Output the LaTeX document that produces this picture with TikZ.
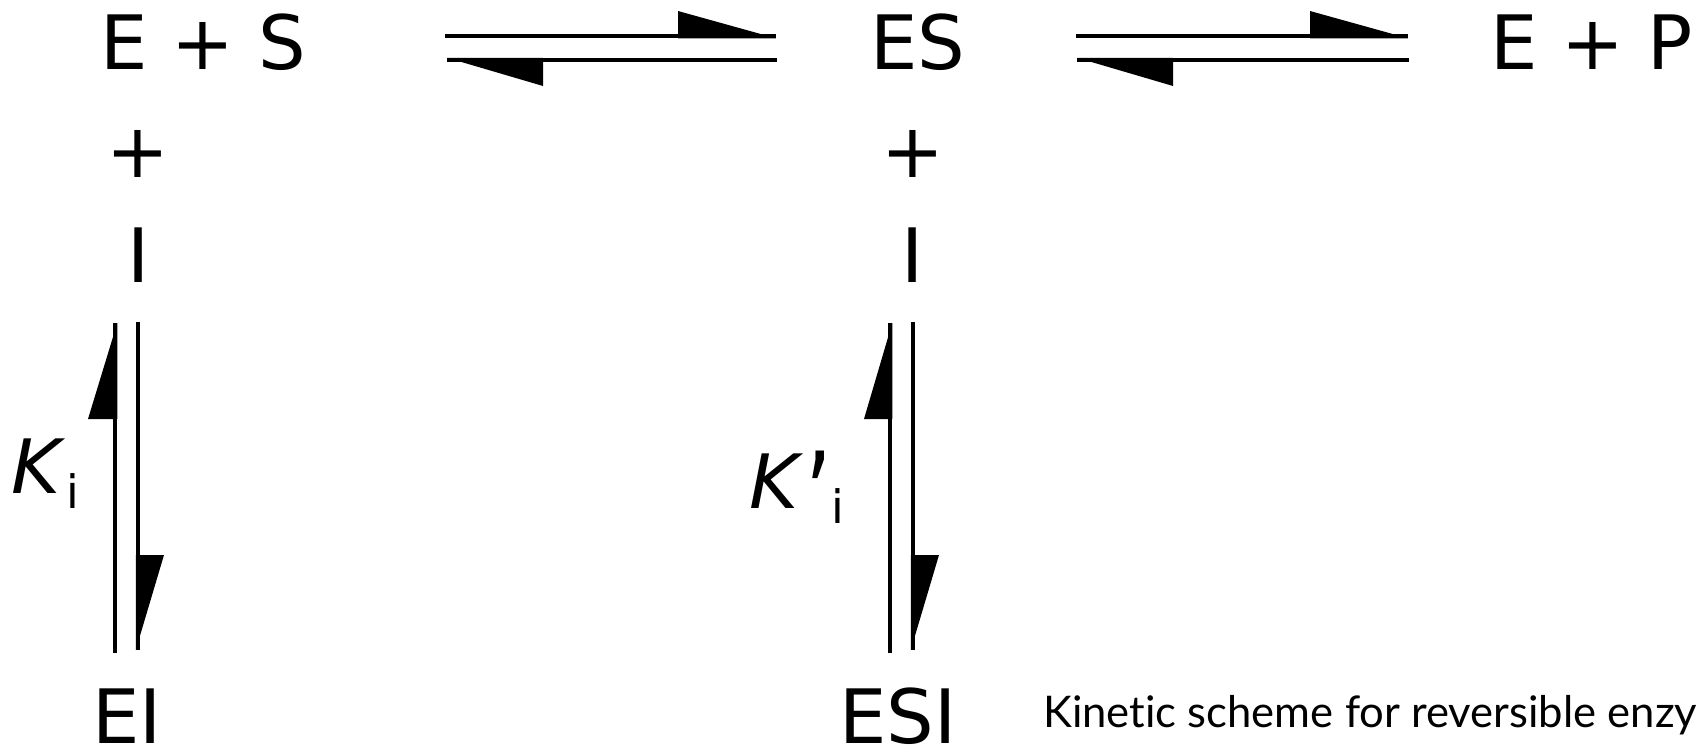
\documentclass[tikz,border=0pt]{standalone}
\usepackage{fontspec}
\setmainfont{DejaVu Sans}
\newfontfamily\capfont[Ligatures=NoCommon]{Lato}
\begin{document}
\begin{tikzpicture}[x=1pt,y=-1pt,
  chem/.style={inner sep=0pt, outer sep=0pt, anchor=base west, font=\fontsize{75}{90}\selectfont},
  chemc/.style={chem, anchor=base},
  eqline/.style={line width=4.5pt},
  barb/.style={fill=black},
  captext/.style={inner sep=0pt, anchor=base west, font=\capfont\fontsize{43.6}{50}\selectfont}]
\useasboundingbox (0,0) rectangle (1698,747);
\fill[white] (0,0) rectangle (1698,747);

% species
\node[chem] (ES0) at (100.5,69) {E + S};
\node[chem] (ES) at (870,69) {ES};
\node[chem] (EP) at (1490,69) {E + P};
\node[chemc] (plus1) at (138,177) {+};
\node[chemc] (I1) at (139,282) {I};
\node[chemc] (plus2) at (913,177) {+};
\node[chemc] (I2) at (913,282) {I};
\node[chem, text depth=0pt] (EI) at (92,743) {EI};
\node[chem, text depth=0pt] (ESI) at (839,743) {ESI};
\node[chem] (Ki) at (12,493) {\textit{K}\raisebox{-15pt}{\fontsize{46}{50}\selectfont i}};
\node[chem] (Kpi) at (749,508) {\textit{K}\kern2pt\raisebox{-30pt}{\scalebox{1.1}[1.6]{\char"0027}}\raisebox{-15pt}{\fontsize{46}{50}\selectfont i}};
\node[captext] (cap) at (1043,727) {Kinetic scheme for reversible enzy};

% horizontal equilibrium 1
\coordinate (h1a) at (445,36);  \coordinate (h1b) at (776,36);
\coordinate (h1c) at (447,60);  \coordinate (h1d) at (777,60);
\draw[eqline] (h1a) -- (h1b);
\fill[barb] (h1b) ++(0,2.25) -- ++(-98,0) -- ++(0,-27.25) -- cycle;
\draw[eqline] (h1c) -- (h1d);
\fill[barb] (h1c) ++(0,-2.25) -- ++(96,0) -- ++(0,28.25) -- cycle;

% horizontal equilibrium 2
\coordinate (h2a) at (1076,36);  \coordinate (h2b) at (1408,36);
\coordinate (h2c) at (1077,60);  \coordinate (h2d) at (1409,60);
\draw[eqline] (h2a) -- (h2b);
\fill[barb] (h2b) ++(0,2.25) -- ++(-98,0) -- ++(0,-27.25) -- cycle;
\draw[eqline] (h2c) -- (h2d);
\fill[barb] (h2c) ++(0,-2.25) -- ++(96,0) -- ++(0,28.25) -- cycle;

% vertical equilibrium 1
\coordinate (v1a) at (115,323);  \coordinate (v1b) at (115,653);
\coordinate (v1c) at (138,322);  \coordinate (v1d) at (138,650);
\draw[eqline] (v1a) -- (v1b);
\fill[barb] (v1a) ++(2.25,0) -- ++(0,96) -- ++(-29.25,0) -- cycle;
\draw[eqline] (v1c) -- (v1d);
\fill[barb] (v1d) ++(-2.25,0) -- ++(0,-95) -- ++(28.25,0) -- cycle;

% vertical equilibrium 2
\coordinate (v2a) at (890,323);  \coordinate (v2b) at (890,653);
\coordinate (v2c) at (913,322);  \coordinate (v2d) at (913,650);
\draw[eqline] (v2a) -- (v2b);
\fill[barb] (v2a) ++(2.25,0) -- ++(0,96) -- ++(-28.25,0) -- cycle;
\draw[eqline] (v2c) -- (v2d);
\fill[barb] (v2d) ++(-2.25,0) -- ++(0,-95) -- ++(28.25,0) -- cycle;
\end{tikzpicture}
\end{document}
